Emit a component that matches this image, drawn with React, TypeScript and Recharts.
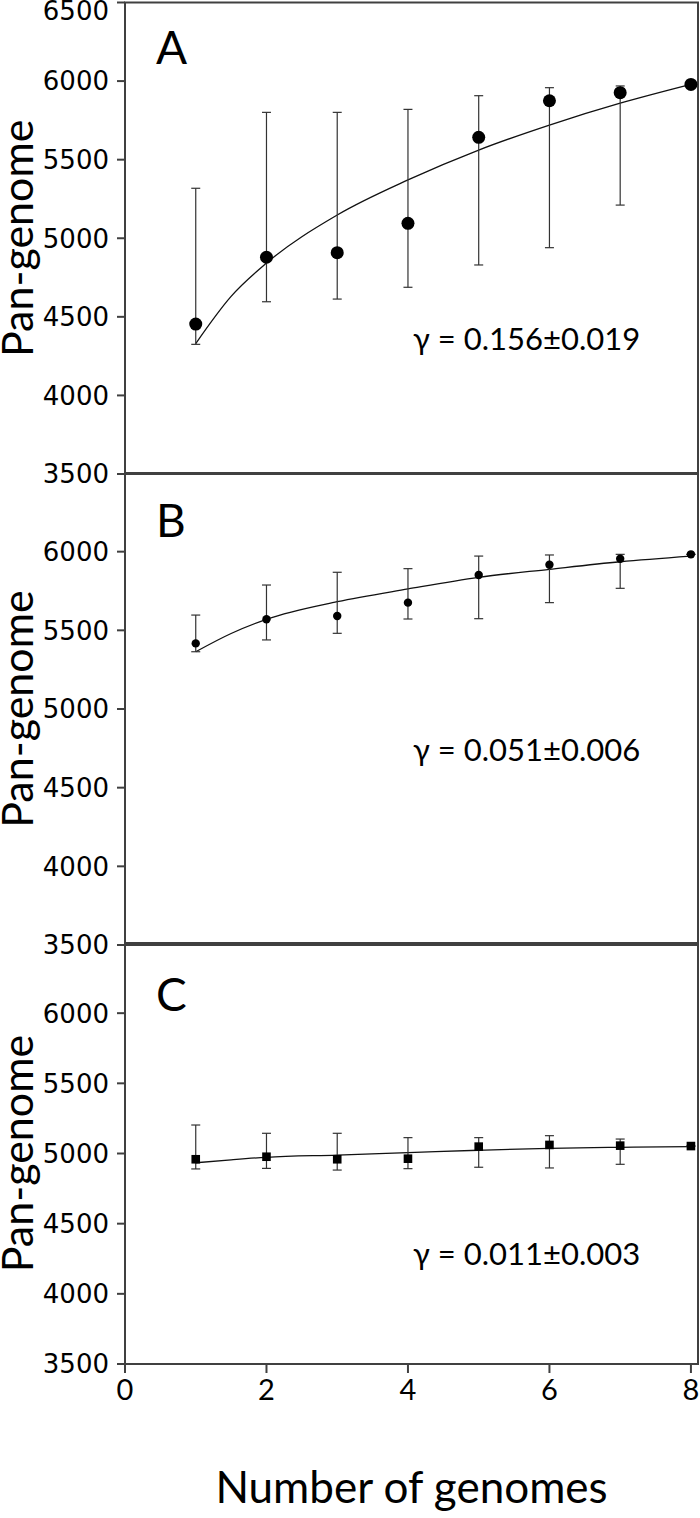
import React from "react";
import {
    ComposedChart,
    Line,
    Scatter,
    XAxis,
    YAxis,
    ErrorBar,
    ReferenceArea,
    Label,
} from "recharts";

const genomes = [1, 2, 3, 4, 5, 6, 7, 8];
const fitGenomes = [1, 1.5, 2, 3, 4, 5, 6, 7, 8];
const xTicks = [0, 2, 4, 6, 8];
const yTicks = [3500, 4000, 4500, 5000, 5500, 6000, 6500];

// panel A
const meanA = [4454, 4879, 4908, 5095, 5642, 5875, 5926, 5979];
const lowA = [4325, 4596, 4613, 4688, 4830, 4940, 5211, 5979];
const highA = [5318, 5801, 5801, 5820, 5907, 5958, 5969, 5979];
const fitA = [4330, 4630, 4842, 5148, 5371, 5561, 5720, 5859, 5979];

// panel B
const meanB = [5417, 5570, 5591, 5676, 5852, 5917, 5955, 5983];
const lowB = [5364, 5439, 5481, 5572, 5574, 5676, 5767, 5983];
const highB = [5597, 5788, 5869, 5892, 5972, 5979, 5983, 5983];
const fitB = [5364, 5480, 5570, 5682, 5763, 5837, 5888, 5936, 5972];

// panel C
const meanC = [4959, 4977, 4959, 4963, 5049, 5061, 5056, 5053];
const lowC = [4890, 4894, 4882, 4892, 4902, 4897, 4923, 5053];
const highC = [5203, 5144, 5144, 5113, 5113, 5127, 5103, 5053];
const fitC = [4934, 4955, 4973, 4989, 5006, 5023, 5037, 5044, 5049];

const AXIS = "#404040";
const TEXT_FONT = "Lato, 'Open Sans', sans-serif";
const TICK_FONT = "'DejaVu Sans', Verdana, sans-serif";

const toPoints = (mean: number[], low: number[], high: number[]) =>
    genomes.map((g, i) => ({
        n: g,
        pan: mean[i],
        err: [mean[i] - low[i], high[i] - mean[i]],
    }));

const toFit = (fit: number[]) => fitGenomes.map((g, i) => ({ n: g, fit: fit[i] }));

const YTick = ({ x, y, payload }: any) => (
    <text
        x={x}
        y={Math.max(y, 11)}
        dy="0.36em"
        textAnchor="end"
        fontFamily={TICK_FONT}
        fontSize={26}
        fill="#000"
    >
        {payload.value}
    </text>
);

const YTitle = ({ viewBox }: any) => {
    const cy = viewBox.y + viewBox.height / 2;
    return (
        <text
            x={33}
            y={cy}
            transform={`rotate(-90, 33, ${cy})`}
            textAnchor="middle"
            fontFamily={TEXT_FONT}
            fontSize={43}
            fill="#000"
        >
            Pan-genome
        </text>
    );
};

const XTitle = ({ viewBox }: any) => (
    <text
        x={viewBox.x + viewBox.width / 2}
        y={viewBox.y + 139}
        textAnchor="middle"
        fontFamily={TEXT_FONT}
        fontSize={44}
        fill="#000"
    >
        Number of genomes
    </text>
);

const bigDot = (p: any) => <circle cx={p.cx} cy={p.cy} r={6.5} fill="#000" />;
const smallDot = (p: any) => <circle cx={p.cx} cy={p.cy} r={4.2} fill="#000" />;
const square = (p: any) => (
    <rect x={p.cx - 4.3} y={p.cy - 4.3} width={8.6} height={8.6} fill="#000" />
);

type PanelProps = {
    top: number;
    height: number;
    marginTop: number;
    xAxisHeight: number;
    letter: string;
    letterY: number;
    gamma: string;
    gammaY: number;
    points: any[];
    fit: any[];
    shape: any;
    ticks: number[];
    bottom?: boolean;
};

function Panel(p: PanelProps) {
    return (
        <div style={{ position: "absolute", left: 0, top: p.top }}>
            <ComposedChart
                width={700}
                height={p.height}
                margin={{ top: p.marginTop, right: 2, bottom: 0, left: 0 }}
            >
                <XAxis
                    dataKey="n"
                    type="number"
                    domain={[0, 8.1]}
                    ticks={xTicks}
                    allowDataOverflow
                    height={p.xAxisHeight}
                    axisLine={{ stroke: AXIS, strokeWidth: 2 }}
                    tickLine={{ stroke: AXIS, strokeWidth: 2 }}
                    tickSize={9}
                    tickMargin={6}
                    tick={
                        p.bottom
                            ? { fontFamily: TEXT_FONT, fontSize: 29, fill: "#000" }
                            : false
                    }
                >
                    {p.bottom && <Label content={XTitle} />}
                </XAxis>
                <YAxis
                    type="number"
                    domain={[3500, 6500]}
                    ticks={p.ticks}
                    interval={0}
                    width={125}
                    allowDataOverflow
                    axisLine={{ stroke: AXIS, strokeWidth: 2 }}
                    tickLine={{ stroke: AXIS, strokeWidth: 2 }}
                    tickSize={8}
                    tickMargin={8}
                    tick={<YTick />}
                >
                    <Label content={YTitle} />
                </YAxis>
                <ReferenceArea
                    x1={0}
                    x2={8.1}
                    y1={3500}
                    y2={6500}
                    fill="none"
                    fillOpacity={0}
                    stroke={AXIS}
                    strokeWidth={2}
                    strokeOpacity={1}
                >
                    <Label
                        content={({ viewBox }: any) => (
                            <text
                                x={viewBox.x + 31}
                                y={viewBox.y + p.letterY}
                                fontFamily={TEXT_FONT}
                                fontSize={46}
                                fill="#000"
                            >
                                {p.letter}
                            </text>
                        )}
                    />
                    <Label
                        content={({ viewBox }: any) => (
                            <text
                                x={viewBox.x + 288}
                                y={viewBox.y + p.gammaY}
                                fontFamily={TEXT_FONT}
                                fontSize={31}
                                fill="#000"
                            >
                                {p.gamma}
                            </text>
                        )}
                    />
                </ReferenceArea>
                <Line
                    data={p.fit}
                    dataKey="fit"
                    type="monotone"
                    stroke="#111"
                    strokeWidth={1.3}
                    dot={false}
                    activeDot={false}
                    isAnimationActive={false}
                />
                <Scatter data={p.points} dataKey="pan" shape={p.shape} isAnimationActive={false}>
                    <ErrorBar
                        dataKey="err"
                        direction="y"
                        width={4.5}
                        stroke="#333"
                        strokeWidth={1.2}
                    />
                </Scatter>
            </ComposedChart>
        </div>
    );
}

export default function App() {
    const lowerTicks = yTicks.slice(0, -1);
    return (
        <div
            style={{
                position: "absolute",
                left: 0,
                top: 0,
                width: 700,
                height: 1518,
                background: "#fff",
                overflow: "hidden",
            }}
        >
            <Panel
                top={0}
                height={490}
                marginTop={2.5}
                xAxisHeight={16}
                letter="A"
                letterY={61}
                gamma="γ = 0.156±0.019"
                gammaY={347}
                points={toPoints(meanA, lowA, highA)}
                fit={toFit(fitA)}
                shape={bigDot}
                ticks={yTicks}
            />
            <Panel
                top={470}
                height={491}
                marginTop={3}
                xAxisHeight={16}
                letter="B"
                letterY={64}
                gamma="γ = 0.051±0.006"
                gammaY={288}
                points={toPoints(meanB, lowB, highB)}
                fit={toFit(fitB)}
                shape={smallDot}
                ticks={lowerTicks}
            />
            <Panel
                top={940}
                height={578}
                marginTop={3}
                xAxisHeight={154}
                letter="C"
                letterY={68}
                gamma="γ = 0.011±0.003"
                gammaY={322}
                points={toPoints(meanC, lowC, highC)}
                fit={toFit(fitC)}
                shape={square}
                ticks={lowerTicks}
                bottom
            />
        </div>
    );
}
